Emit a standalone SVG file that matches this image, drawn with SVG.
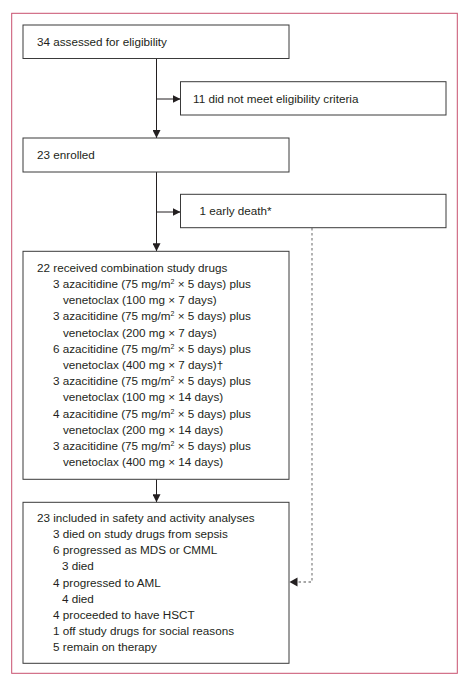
<svg xmlns="http://www.w3.org/2000/svg" width="461" height="675" viewBox="0 0 461 675">
<defs>
<style>
.box{fill:#fff;stroke:#3a3a3a;stroke-width:1}
.t{font-family:"Liberation Sans",Arial,sans-serif;font-size:11.7px;fill:#231f20}
.sup{font-size:7px}
.ln{stroke:#231f20;stroke-width:1;fill:none}
.dash{stroke:#8a8a8a;stroke-width:1.3;fill:none;stroke-dasharray:2.5,2.5}
</style>
<marker id="ah" viewBox="0 0 10 10" refX="10" refY="5" markerWidth="8" markerHeight="8" markerUnits="userSpaceOnUse" orient="auto">
<path d="M0,0 L10,5 L0,10 Z" fill="#231f20"/>
</marker>
</defs>
<rect x="0" y="0" width="461" height="675" fill="#fff"/>
<rect x="11.7" y="13.3" width="445.6" height="660" fill="none" stroke="#c9506f" stroke-width="1"/>
<g id="connectors">
<line class="ln" x1="156.5" y1="58.5" x2="156.5" y2="138" marker-end="url(#ah)"/>
<line class="ln" x1="156.5" y1="99" x2="180.5" y2="99" marker-end="url(#ah)"/>
<line class="ln" x1="156.5" y1="172" x2="156.5" y2="251.3" marker-end="url(#ah)"/>
<line class="ln" x1="156.5" y1="212" x2="180.5" y2="212" marker-end="url(#ah)"/>
<line class="ln" x1="156.5" y1="479.3" x2="156.5" y2="502.3" marker-end="url(#ah)"/>
<polyline class="dash" points="312,228 312,582 297,582"/>
<path d="M289.5,582 L297.5,577.5 L297.5,586.5 Z" fill="#231f20"/>
</g>
<g id="n1">
<rect class="box" x="23" y="25" width="266" height="33.5"/>
<text class="t" x="37" y="45.5">34 assessed for eligibility</text>
</g>
<g id="n2">
<rect class="box" x="180.5" y="81.7" width="265.5" height="33.3"/>
<text class="t" x="193" y="102.5">11 did not meet eligibility criteria</text>
</g>
<g id="n3">
<rect class="box" x="23" y="138" width="266" height="34"/>
<text class="t" x="37" y="158.5">23 enrolled</text>
</g>
<g id="n4">
<rect class="box" x="180.5" y="194.3" width="265.5" height="33.4"/>
<text class="t" x="199.5" y="215">1 early death*</text>
</g>
<g id="n5">
<rect class="box" x="23" y="251.3" width="266" height="228"/>
<text class="t" x="37" y="271.7">22 received combination study drugs</text>
<text class="t" x="53" y="287.9">3 azacitidine (75 mg/m<tspan class="sup" dy="-4">2</tspan><tspan dy="4"> × 5 days) plus</tspan></text>
<text class="t" x="63" y="304.1">venetoclax (100 mg × 7 days)</text>
<text class="t" x="53" y="320.3">3 azacitidine (75 mg/m<tspan class="sup" dy="-4">2</tspan><tspan dy="4"> × 5 days) plus</tspan></text>
<text class="t" x="63" y="336.5">venetoclax (200 mg × 7 days)</text>
<text class="t" x="53" y="352.7">6 azacitidine (75 mg/m<tspan class="sup" dy="-4">2</tspan><tspan dy="4"> × 5 days) plus</tspan></text>
<text class="t" x="63" y="368.9">venetoclax (400 mg × 7 days)†</text>
<text class="t" x="53" y="385.1">3 azacitidine (75 mg/m<tspan class="sup" dy="-4">2</tspan><tspan dy="4"> × 5 days) plus</tspan></text>
<text class="t" x="63" y="401.3">venetoclax (100 mg × 14 days)</text>
<text class="t" x="53" y="417.5">4 azacitidine (75 mg/m<tspan class="sup" dy="-4">2</tspan><tspan dy="4"> × 5 days) plus</tspan></text>
<text class="t" x="63" y="433.7">venetoclax (200 mg × 14 days)</text>
<text class="t" x="53" y="449.9">3 azacitidine (75 mg/m<tspan class="sup" dy="-4">2</tspan><tspan dy="4"> × 5 days) plus</tspan></text>
<text class="t" x="63" y="466.1">venetoclax (400 mg × 14 days)</text>
</g>
<g id="n6">
<rect class="box" x="23" y="502.3" width="266" height="161"/>
<text class="t" x="37" y="521.7">23 included in safety and activity analyses</text>
<text class="t" x="53" y="537.9">3 died on study drugs from sepsis</text>
<text class="t" x="53" y="554.1">6 progressed as MDS or CMML</text>
<text class="t" x="62" y="570.3">3 died</text>
<text class="t" x="53" y="586.5">4 progressed to AML</text>
<text class="t" x="62" y="602.7">4 died</text>
<text class="t" x="53" y="618.9">4 proceeded to have HSCT</text>
<text class="t" x="53" y="635.1">1 off study drugs for social reasons</text>
<text class="t" x="53" y="651.3">5 remain on therapy</text>
</g>
</svg>
